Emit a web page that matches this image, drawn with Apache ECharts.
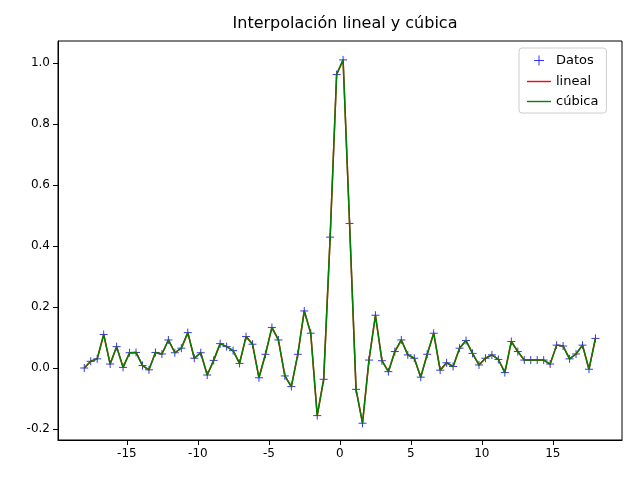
<!DOCTYPE html>
<html>
<head>
<meta charset="utf-8">
<script src="https://cdn.jsdelivr.net/npm/echarts@6/dist/echarts.min.js"></script>
<style>html,body{margin:0;padding:0;background:#fff}#chart{width:640px;height:480px}</style>
</head>
<body>
<div id="chart"></div>
<script>
// valores (muestras equiespaciadas de -18 a 18)
var xMin = -18, xMax = 18
var yDatos = [
  0.0, 0.022, 0.03, 0.11, 0.013, 0.07, 0.002, 0.05, 0.051, 0.008,
  -0.006, 0.051, 0.046, 0.092, 0.05, 0.065, 0.116, 0.032, 0.05, -0.023,
  0.025, 0.08, 0.07, 0.057, 0.015, 0.103, 0.078, -0.032, 0.045, 0.133,
  0.092, -0.026, -0.061, 0.045, 0.187, 0.114, -0.156, -0.037, 0.429, 0.962,
  1.01, 0.474, -0.07, -0.181, 0.026, 0.173, 0.024, -0.012, 0.054, 0.092,
  0.043, 0.032, -0.03, 0.045, 0.114, -0.007, 0.017, 0.005, 0.065, 0.09,
  0.048, 0.01, 0.032, 0.043, 0.028, -0.015, 0.087, 0.054, 0.026, 0.026,
  0.026, 0.026, 0.013, 0.075, 0.072, 0.03, 0.046, 0.075, -0.004, 0.097
]
var xTicks = [-15, -10, -5, 0, 5, 10, 15]
var yTicks = [-0.2, 0, 0.2, 0.4, 0.6, 0.8, 1.0]

var nPuntos = yDatos.length
var puntos = []
for (var i = 0; i < nPuntos; i++) {
  var x = xMin + i * (xMax - xMin) / (nPuntos - 1)
  puntos.push([x, yDatos[i]])
}

var cruz = 'path://M0,5 L10,5 M5,0 L5,10'
var raya = 'path://M0,4.3 L24,4.3 L24,5.7 L0,5.7 Z'
var fuente = 'DejaVu Sans'

var chart = echarts.init(document.getElementById('chart'))
chart.setOption({
  animation: false,
  textStyle: { fontFamily: fuente },
  title: {
    text: 'Interpolación lineal y cúbica',
    left: 340, top: 11, textAlign: 'center',
    textStyle: { fontFamily: fuente, fontSize: 16, fontWeight: 'normal', color: '#000' }
  },
  legend: {
    left: 519, top: 48, orient: 'vertical',
    backgroundColor: '#fff', borderColor: '#ccc', borderWidth: 1, borderRadius: 3,
    padding: [5, 8, 5, 8], itemGap: 7, itemWidth: 24, itemHeight: 10,
    textStyle: { fontFamily: fuente, fontSize: 13, color: '#000' },
    data: [
      { name: 'Datos', icon: cruz, itemStyle: { color: 'none', borderColor: '#0000ff', borderWidth: 1 } },
      { name: 'lineal', icon: raya, itemStyle: { color: '#ff0000', borderWidth: 0 } },
      { name: 'cúbica', icon: raya, itemStyle: { color: '#008000', borderWidth: 0 } }
    ]
  },
  grid: { left: 58, right: 18, top: 41, bottom: 40, show: true, borderColor: '#000', borderWidth: 1 },
  xAxis: {
    type: 'value', min: -19.85, max: 19.87,
    splitLine: { show: false },
    axisLine: { onZero: false, lineStyle: { color: '#000' } },
    axisTick: { show: true, customValues: xTicks, lineStyle: { color: '#000' } },
    axisLabel: { customValues: xTicks, color: '#000', fontSize: 12, fontFamily: fuente }
  },
  yAxis: {
    type: 'value', min: -0.236, max: 1.072,
    splitLine: { show: false },
    axisLine: { show: true, onZero: false, lineStyle: { color: '#000' } },
    axisTick: { show: true, customValues: yTicks, lineStyle: { color: '#000' } },
    axisLabel: { customValues: yTicks, color: '#000', fontSize: 12, fontFamily: fuente,
      formatter: function (v) { return v.toFixed(1) } }
  },
  series: [
    {
      name: 'Datos', type: 'scatter', data: puntos, symbol: cruz, symbolSize: 8, z: 1,
      itemStyle: { color: 'none', borderColor: '#0000ff', borderWidth: 1 }
    },
    {
      name: 'lineal', type: 'line', data: puntos, showSymbol: false, z: 2,
      lineStyle: { color: '#ff0000', width: 1.5 }, itemStyle: { color: '#ff0000' }
    },
    {
      name: 'cúbica', type: 'line', data: puntos, showSymbol: false, z: 3,
      lineStyle: { color: '#008000', width: 1.5 }, itemStyle: { color: '#008000' }
    }
  ]
})
</script>
</body>
</html>
